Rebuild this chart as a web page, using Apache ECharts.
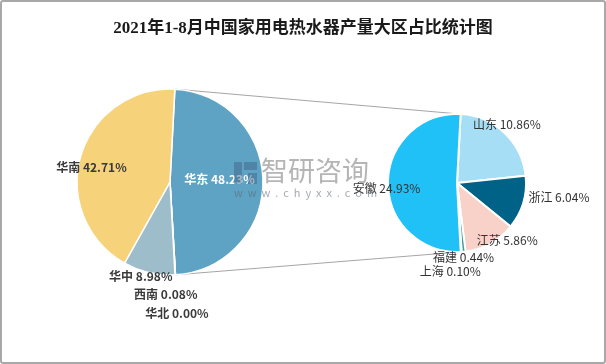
<!DOCTYPE html>
<html><head><meta charset="utf-8">
<script src="https://cdn.jsdelivr.net/npm/echarts@6/dist/echarts.min.js"></script>
<style>
html,body{margin:0;padding:0;background:#fff}
#wrap{position:relative;width:606px;height:364px}
#c{width:606px;height:364px}
#frame{position:absolute;left:0;top:0;width:606px;height:364px;box-sizing:border-box;border:2px solid #a8a8a8;border-radius:3px;pointer-events:none}
</style></head><body>
<div id="wrap"><div id="c"></div><div id="frame"></div></div>
<script>
const titleText = '2021年1-8月中国家用电热水器产量大区占比统计图';
const regionNames = ['华东', '华北', '西南', '华中', '华南'];
const regionValues = [48.23, 0.00, 0.08, 8.98, 42.71];
const provinceNames = ['山东', '浙江', '江苏', '福建', '上海', '安徽'];
const provinceValues = [10.86, 6.04, 5.86, 0.44, 0.10, 24.93];

// styles (not data)
const regionColors = {'华东':'#5FA3C4','华北':'#7f9fb0','西南':'#c9b98a','华中':'#9DBDCB','华南':'#F6D27B'};
const provinceColors = {'山东':'#A6DEF6','浙江':'#006287','江苏':'#F8D2C8','福建':'#3E9C9C','上海':'#CFE8EE','安徽':'#1FC1F7'};
const labelNudge = {
  '华东':[0,-2],'华北':[4,82],'西南':[-7,63],'华中':[-18,46],'华南':[-31,-1],
  '山东':[24,-31],'浙江':[66,4],'江苏':[32,25],'福建':[3,37],'上海':[-9,51],'安徽':[-33,5]
};
const L = {cx:170, cy:182, r:93};
const R = {cx:457, cy:183, r:69};
const startAngle = 87;

const font = '"Noto Sans CJK SC", "Noto Sans", sans-serif';
const fmt = p => p.name + ' ' + Number(p.value).toFixed(2) + '%';

const chart = echarts.init(document.getElementById('c'), null, {renderer:'canvas'});

function pt(c, ang){ const a = ang*Math.PI/180; return [c.cx + c.r*Math.cos(a), c.cy - c.r*Math.sin(a)]; }
const leftTotal = regionValues.reduce((a,b)=>a+b,0);
const rightTotal = provinceValues.reduce((a,b)=>a+b,0);
const eastIdx = regionNames.indexOf('华东');
const eastEnd = startAngle - 360*regionValues[eastIdx]/leftTotal;
const anhuiIdx = provinceNames.indexOf('安徽');
let beforeAnhui = 0; for (let i=0;i<anhuiIdx;i++) beforeAnhui += provinceValues[i];
const anhuiStart = startAngle - 360*beforeAnhui/rightTotal;

const lineTop = [pt(L, startAngle), pt(R, startAngle)];
const lineBot = [pt(L, eastEnd), pt(R, anhuiStart)];

const wmIcon = 'rgba(60,95,130,0.45)';
chart.setOption({
  backgroundColor:'#fff',
  animation:false,
  title:{text:titleText,left:'center',top:15,textStyle:{fontFamily:'"Liberation Serif", "Noto Sans CJK SC", serif',fontSize:17,fontWeight:'bold',color:'#1a1a1a'}},
  graphic:[
    {type:'polyline',z:1,shape:{points:lineTop},style:{stroke:'#a6a6a6',lineWidth:1,fill:null}},
    {type:'polyline',z:1,shape:{points:lineBot},style:{stroke:'#a6a6a6',lineWidth:1,fill:null}},
    {type:'rect',z:100,shape:{x:234,y:162,width:8,height:22},style:{fill:wmIcon}},
    {type:'rect',z:100,shape:{x:244,y:162,width:13,height:8},style:{fill:wmIcon}},
    {type:'rect',z:100,shape:{x:248,y:173,width:9,height:11},style:{fill:wmIcon}},
    {type:'text',z:100,x:261,y:157,style:{text:'智研咨询',fontSize:27,fontFamily:font,fill:'rgba(150,150,150,0.7)'}},
    {type:'text',z:100,x:234,y:187,style:{text:'w  w  w  .  c  h  y  x  x  .  c  o  m',fontSize:11,fontFamily:font,fill:'rgba(90,100,110,0.55)'}}
  ],
  series:[
    {
      type:'pie', center:[L.cx,L.cy], radius:[0,L.r], startAngle:startAngle, clockwise:true,
      avoidLabelOverlap:false,
      itemStyle:{borderColor:'#fff',borderWidth:1.5},
      label:{show:true,position:'inside',formatter:fmt,fontFamily:font,fontSize:12,fontWeight:'bold',color:'#3a3a3a'},
      labelLine:{show:false},
      labelLayout:p=>{const n=labelNudge[regionNames[p.dataIndex]];return {dx:n[0],dy:n[1]};},
      data:regionNames.map((n,i)=>({name:n,value:regionValues[i],itemStyle:{color:regionColors[n]},
        label: n==='华东'?{color:'#fff'}:{}}))
    },
    {
      type:'pie', center:[R.cx,R.cy], radius:[0,R.r], startAngle:startAngle, clockwise:true,
      avoidLabelOverlap:false,
      itemStyle:{borderColor:'#fff',borderWidth:2},
      label:{show:true,position:'inside',formatter:fmt,fontFamily:font,fontSize:12,color:'#333'},
      labelLine:{show:false},
      labelLayout:p=>{const n=labelNudge[provinceNames[p.dataIndex]];return {dx:n[0],dy:n[1]};},
      data:provinceNames.map((n,i)=>({name:n,value:provinceValues[i],itemStyle:{color:provinceColors[n]}}))
    }
  ]
});
</script></body></html>
